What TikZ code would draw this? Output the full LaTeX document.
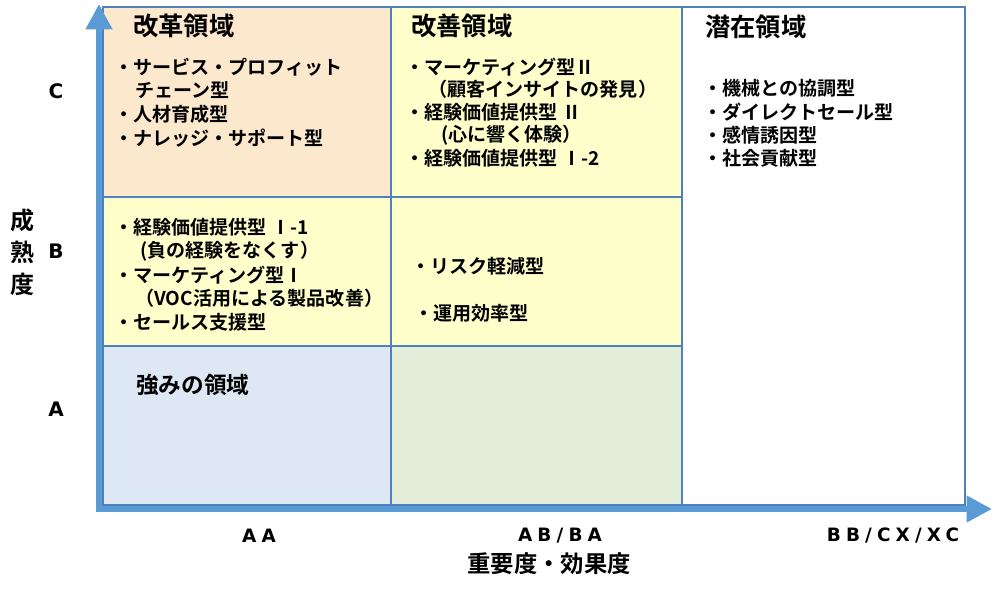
\documentclass[tikz,border=0pt]{standalone}
\usepackage{fontspec}
\usetikzlibrary{arrows.meta}
\newfontfamily\jpfont{Noto Sans CJK JP Bold}
\newfontfamily\latfont{DejaVu Sans Bold}[LetterSpace=28]
\definecolor{axisblue}{HTML}{5B9BD5}
\definecolor{edgeblue}{HTML}{4F81BD}
\definecolor{peach}{HTML}{FCE8CC}
\definecolor{paleyellow}{HTML}{FFFFCC}
\definecolor{paleblue}{HTML}{DEE8F4}
\definecolor{palegreen}{HTML}{E2EED9}
\tikzset{
	cell/.style={draw=edgeblue, line width=0.8pt},
	axis/.style={draw=axisblue, line width=4.5pt, {Triangle[length=19pt,width=19pt]}-{Triangle[length=19pt,width=19pt]}},
	item/.style={anchor=west, inner sep=0pt, font=\jpfont\fontsize{14.3}{17}\selectfont},
	areatitle/.style={anchor=west, inner sep=0pt, font=\jpfont\fontsize{19}{22}\selectfont},
	grade/.style={inner sep=0pt, font=\latfont\fontsize{15}{18}\selectfont},
	score/.style={inner sep=0pt, font=\latfont\fontsize{13.8}{16}\selectfont}
}
\begin{document}
\begin{tikzpicture}[x=0.75pt, y=-0.75pt]
	\useasboundingbox (0,0) rectangle (1000,598);
	% cells
	\draw[cell, fill=peach] (103,7) rectangle (391,197);
	\draw[cell, fill=paleyellow] (391,7) rectangle (682,197);
	\draw[cell, fill=paleyellow] (103,197) rectangle (391,346);
	\draw[cell, fill=paleyellow] (391,197) rectangle (682,346);
	\draw[cell, fill=paleblue] (103,346) rectangle (391,505);
	\draw[cell, fill=palegreen] (391,346) rectangle (682,505);
	\draw[cell, fill=white] (682,7) rectangle (965,505);
	% axes
	\coordinate (ytip) at (99,4);
	\coordinate (xtip) at (992,509);
	\draw[axis] (ytip) |- (xtip);
	% area titles
	\node[areatitle] (kaikaku) at (133,26) {改革領域};
	\node[areatitle] (kaizen) at (411,26) {改善領域};
	\node[areatitle] (senzai) at (705,27) {潜在領域};
	\node[areatitle, font=\jpfont\fontsize{17}{20}\selectfont] (tsuyomi) at (136,385) {強みの領域};
	% items
	\foreach \ytxt/\xtxt/\txt [count=\i] in {67/114/・サービス・プロフィット, 90/135/チェーン型, 114/114/・人材育成型, 138/114/・ナレッジ・サポート型}
		\node[item] (kaikaku\i) at (\xtxt,\ytxt) {\txt};
	\foreach \ytxt/\xtxt/\txt [count=\i] in {67/405/・マーケティング型Ⅱ, 89/428/（顧客インサイトの発見）, 112/405/・経験価値提供型 Ⅱ, 135/441/(心に響く体験）, 158/405/・経験価値提供型 Ⅰ-2}
		\node[item] (kaizen\i) at (\xtxt,\ytxt) {\txt};
	\foreach \ytxt/\xtxt/\txt [count=\i] in {88/703/・機械との協調型, 112/703/・ダイレクトセール型, 135/703/・感情誘因型, 158/703/・社会貢献型}
		\node[item] (senzai\i) at (\xtxt,\ytxt) {\txt};
	\foreach \ytxt/\xtxt/\txt [count=\i] in {227/114/・経験価値提供型 Ⅰ-1, 251/140/(負の経験をなくす）, 275/114/・マーケティング型Ⅰ, 298/135/（VOC活用による製品改善）, 322/114/・セールス支援型}
		\node[item] (keiken\i) at (\xtxt,\ytxt) {\txt};
	\foreach \ytxt/\xtxt/\txt [count=\i] in {266/411/・リスク軽減型, 313/414/・運用効率型}
		\node[item] (risk\i) at (\xtxt,\ytxt) {\txt};
	% axis labels
	\foreach \ytxt/\txt in {91/C, 251/B, 409/A}
		\node[grade] (grade\txt) at (56,\ytxt) {\txt};
	\node[score] (scoreAA) at (259,536) {AA};
	\node[score] (scoreAB) at (560,536) {AB/BA};
	\node[score] (scoreBB) at (893,536) {BB/CX/XC};
	\node[inner sep=0pt, align=center, font=\jpfont\fontsize{18}{24}\selectfont] (seijuku) at (22,252) {成\\熟\\度};
	\node[inner sep=0pt, font=\jpfont\fontsize{17.5}{20}\selectfont] (juyo) at (549,564) {重要度・効果度};
\end{tikzpicture}
\end{document}
